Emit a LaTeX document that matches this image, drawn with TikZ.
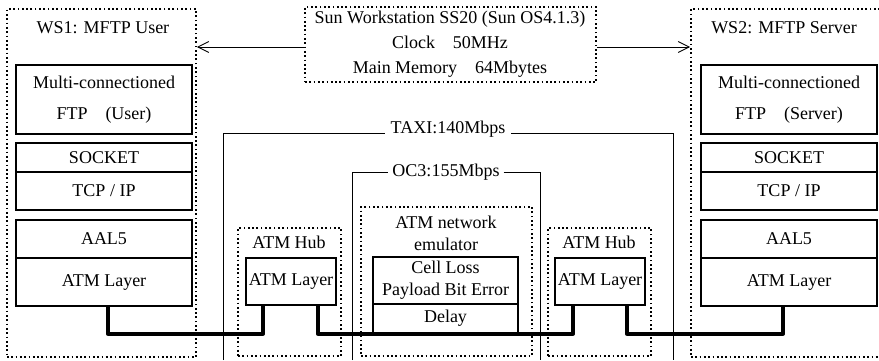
\documentclass[tikz,border=0pt]{standalone}
\usepackage{fontspec}
\setmainfont{Liberation Serif}
\usetikzlibrary{arrows.meta}
\begin{document}
\begin{tikzpicture}[x=1pt,y=-1pt,
  dotbox/.style={draw, line width=1.7pt, dash pattern=on 1.7pt off 2.6pt, inner sep=0pt},
  layerbox/.style={draw, line width=1.4pt, inner sep=0pt, align=center, font=\fontsize{18}{22}\selectfont},
  lbl/.style={inner sep=0pt, align=center, font=\fontsize{18}{22}\selectfont},
  thinline/.style={line width=0.9pt},
  arr/.style={thinline, -{Straight Barb[length=11pt,width=11pt,line width=0.9pt]}},
  link/.style={line width=4pt, line join=round}
]
\useasboundingbox (0,0) rectangle (879,360);
\clip (0,0) rectangle (879,360);

% ---- Sun workstation box
\node[dotbox, minimum width=291pt, minimum height=75pt] (sun) at (450.5,44.5) {};
\node[lbl, font=\fontsize{18}{25}\selectfont] (suntxt) at (450,44) {Sun Workstation SS20 (Sun OS4.1.3)\\Clock\quad 50MHz\\Main Memory\quad 64Mbytes};

% ---- WS1
\node[dotbox, minimum width=189pt, minimum height=348pt] (ws1) at (101.5,183) {};
\node[lbl] (ws1t) at (103,28) {WS1: MFTP User};
\node[layerbox, minimum width=176pt, minimum height=69pt, font=\fontsize{18}{31}\selectfont] (ws1ftp) at (104,99.5) {Multi-connectioned\\FTP\quad (User)};
\node[layerbox, minimum width=176pt, minimum height=29pt] (ws1sock) at (104,157.5) {SOCKET};
\node[layerbox, minimum width=176pt, minimum height=38pt] (ws1tcp) at (104,191) {TCP / IP};
\node[layerbox, minimum width=176pt, minimum height=38pt] (ws1aal) at (104,239) {AAL5};
\node[layerbox, minimum width=176pt, minimum height=48pt] (ws1atm) at (104,282) {ATM Layer};

% ---- WS2
\node[dotbox, minimum width=200pt, minimum height=348pt] (ws2) at (791,183) {};
\node[lbl] (ws2t) at (784,28) {WS2: MFTP Server};
\node[layerbox, minimum width=176pt, minimum height=69pt, font=\fontsize{18}{31}\selectfont] (ws2ftp) at (789,99.5) {Multi-connectioned\\FTP\quad (Server)};
\node[layerbox, minimum width=176pt, minimum height=29pt] (ws2sock) at (789,157.5) {SOCKET};
\node[layerbox, minimum width=176pt, minimum height=38pt] (ws2tcp) at (789,191) {TCP / IP};
\node[layerbox, minimum width=176pt, minimum height=38pt] (ws2aal) at (789,239) {AAL5};
\node[layerbox, minimum width=176pt, minimum height=48pt] (ws2atm) at (789,282) {ATM Layer};

% ---- ATM hubs
\node[dotbox, minimum width=103pt, minimum height=128pt] (hubL) at (289.5,292) {};
\node[lbl] (hubLt) at (289,242) {ATM Hub};
\node[layerbox, minimum width=90pt, minimum height=47pt] (hubLl) at (291,281.5) {ATM Layer};

\node[dotbox, minimum width=103pt, minimum height=128pt] (hubR) at (599.5,292) {};
\node[lbl] (hubRt) at (599,242) {ATM Hub};
\node[layerbox, minimum width=90pt, minimum height=47pt] (hubRl) at (600,281.5) {ATM Layer};

% ---- Emulator
\node[dotbox, minimum width=171pt, minimum height=149pt] (emu) at (446.5,281.5) {};
\node[lbl] (emut) at (446,233) {ATM network\\emulator};
\node[layerbox, minimum width=145pt, minimum height=47pt] (cell) at (445.5,280.5) {Cell Loss\\Payload Bit Error};
\node[layerbox, minimum width=145pt, minimum height=29pt] (delay) at (445.5,318.5) {Delay};

% ---- TAXI / OC3 framing lines
\coordinate (taxiL) at (223,360);
\coordinate (taxiR) at (673,360);
\coordinate (ocL) at (352,360);
\coordinate (ocR) at (540,360);
\node[lbl, anchor=base] (taxi) at (448,133) {TAXI:140Mbps};
\node[lbl] (oc3) at (446,172) {OC3:155Mbps};
\draw[thinline] (taxiL) |- ([xshift=-6pt]taxi.base west);
\draw[thinline] ([xshift=6pt]taxi.base east) -| (taxiR);
\draw[thinline] (ocL) |- ([xshift=-4pt]oc3.west);
\draw[thinline] ([xshift=4pt]oc3.east) -| (ocR);

% ---- arrows
\draw[arr] (sun.west |- 0,47) -- (ws1.east |- 0,47);
\draw[arr] (sun.east |- 0,47) -- (ws2.west |- 0,47);

% ---- thick ATM links
\draw[link] ([xshift=4pt]ws1atm.south) -- ++(0,27) -| ([xshift=-28pt]hubLl.south);
\draw[link] ([xshift=27pt]hubLl.south) -- ++(0,28) -| ([xshift=-27pt]hubRl.south);
\draw[link] ([xshift=27pt]hubRl.south) -- ++(0,28) -| ([xshift=-6pt]ws2atm.south);
\end{tikzpicture}
\end{document}
